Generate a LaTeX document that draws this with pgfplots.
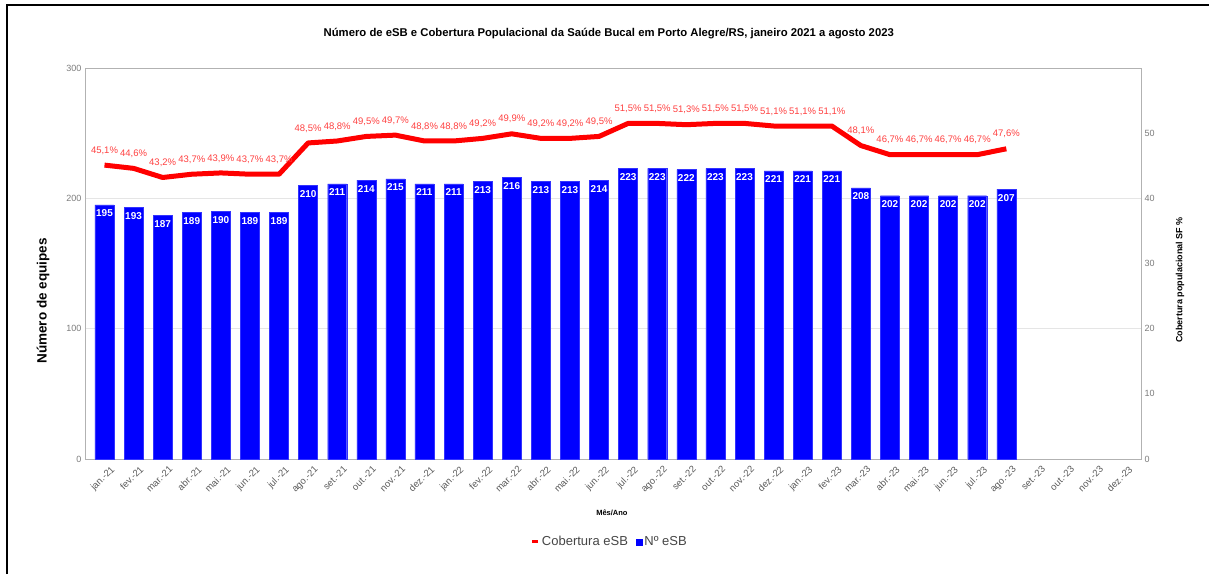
\documentclass[border=0pt]{standalone}
\usepackage{fontspec}
\setmainfont{Liberation Sans}
\usepackage{pgfplots}
\usepackage{pgfplotstable}
\pgfplotsset{compat=1.18}

\definecolor{barblue}{RGB}{0,0,255}
\definecolor{linered}{RGB}{255,0,0}
\definecolor{lblred}{RGB}{255,64,64}
\definecolor{tickgray}{RGB}{90,90,90}
\definecolor{legendgray}{RGB}{70,70,70}

% idx = month (0 = jan-21), esb = number of teams, cob = coverage %
\pgfplotstableread{
idx esb cob
0  195 45.1
1  193 44.6
2  187 43.2
3  189 43.7
4  190 43.9
5  189 43.7
6  189 43.7
7  210 48.5
8  211 48.8
9  214 49.5
10 215 49.7
11 211 48.8
12 211 48.8
13 213 49.2
14 216 49.9
15 213 49.2
16 213 49.2
17 214 49.5
18 223 51.5
19 223 51.5
20 222 51.3
21 223 51.5
22 223 51.5
23 221 51.1
24 221 51.1
25 221 51.1
26 208 48.1
27 202 46.7
28 202 46.7
29 202 46.7
30 202 46.7
31 207 47.6
}\dados

\begin{document}
\begin{tikzpicture}
\path[use as bounding box] (0pt,0pt) rectangle (1209pt,574pt);
\draw[line width=2.5pt] (7pt,0pt) -- (7pt,569pt) -- (1209pt,569pt);

\begin{axis}[
    at={(85pt,115pt)}, anchor=south west,
    scale only axis, width=1056pt, height=391pt,
    xmin=-0.67, xmax=35.63, ymin=0, ymax=300,
    xtick={0,...,35},
    xticklabels={jan.-21,fev.-21,mar.-21,abr.-21,mai.-21,jun.-21,jul.-21,ago.-21,set.-21,out.-21,nov.-21,dez.-21,
                 jan.-22,fev.-22,mar.-22,abr.-22,mai.-22,jun.-22,jul.-22,ago.-22,set.-22,out.-22,nov.-22,dez.-22,
                 jan.-23,fev.-23,mar.-23,abr.-23,mai.-23,jun.-23,jul.-23,ago.-23,set.-23,out.-23,nov.-23,dez.-23},
    ytick={0,100,200,300},
    tick pos=left, major tick length=0pt,
    ymajorgrids, grid style={gray!20, line width=0.8pt},
    axis line style={gray!60, line width=0.8pt},
    /pgf/number format/assume math mode=true,
    xticklabel style={rotate=45, anchor=north east, font=\fontsize{9.5}{10}\selectfont, text=tickgray, xshift=3pt, yshift=-5pt},
    yticklabel style={font=\fontsize{9}{10}\selectfont, text=tickgray!80},
    ylabel={Número de equipes},
    ylabel style={font=\bfseries\fontsize{13.5}{14}\selectfont, at={(axis description cs:-0.0398,0.404)}, anchor=center},
    xlabel={Mês/Ano},
    xlabel style={font=\bfseries\fontsize{7.5}{8}\selectfont, at={(axis description cs:0.499,-0.138)}, anchor=center},
    title={Número de eSB e Cobertura Populacional da Saúde Bucal em Porto Alegre/RS, janeiro 2021 a agosto 2023},
    title style={font=\bfseries\fontsize{11.3}{12}\selectfont, at={(axis description cs:0.496,1.0716)}, anchor=center},
]
\addplot[ybar, bar width=19pt, fill=barblue, draw=barblue!80,
    nodes near coords,
    every node near coord/.append style={anchor=north, yshift=-1.4pt, text=white, font=\bfseries\fontsize{10}{11}\selectfont}]
    table[x=idx, y=esb] {\dados};
\end{axis}

\begin{axis}[
    at={(85pt,115pt)}, anchor=south west,
    scale only axis, width=1056pt, height=391pt,
    xmin=-0.67, xmax=35.63, ymin=0, ymax=60,
    axis x line=none, axis y line*=right,
    ytick={0,10,...,50},
    major tick length=0pt,
    axis line style={gray!60, line width=0.8pt},
    /pgf/number format/assume math mode=true,
    yticklabel style={font=\fontsize{9}{10}\selectfont, text=tickgray!80},
    ylabel={Cobertura populacional SF \%},
    ylabel style={font=\bfseries\fontsize{9}{10}\selectfont, at={(axis description cs:1.0369,0.458)}, anchor=center},
    legend style={at={(axis description cs:0.497,-0.212)}, anchor=center, draw=none,
        font=\fontsize{13}{14}\selectfont, text=legendgray,
        /tikz/every even column/.append style={column sep=6pt}},
    legend columns=-1,
]
\addplot[linered, line width=5pt, line join=round, mark=none,
    nodes near coords={\pgfmathprintnumber[fixed, fixed zerofill, precision=1, use comma]{\pgfplotspointmeta}\%},
    every node near coord/.append style={anchor=south, yshift=4.8pt, text=lblred, font=\fontsize{9.5}{10}\selectfont},
    legend image code/.code={\draw[linered, line width=3pt] (0pt,0pt) -- (6pt,0pt);}]
    table[x=idx, y=cob] {\dados};
\addlegendentry{Cobertura eSB}
\addlegendimage{legend image code/.code={\fill[barblue] (0pt,-3pt) rectangle (6pt,3pt);}}
\addlegendentry{Nº eSB}
\end{axis}
\end{tikzpicture}
\end{document}
